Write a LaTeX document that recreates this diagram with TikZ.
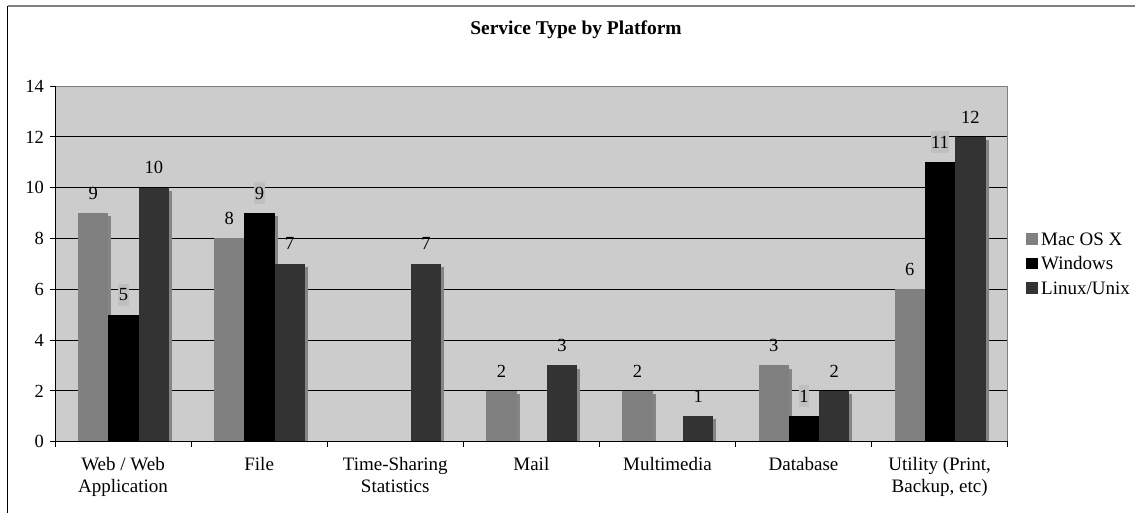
\documentclass[tikz,border=0pt]{standalone}
\usepackage{fontspec}
\setmainfont{Liberation Serif}
\usetikzlibrary{positioning}

\definecolor{plotbg}{HTML}{CCCCCC}
\definecolor{macgray}{HTML}{808080}
\definecolor{lingray}{HTML}{333333}
\definecolor{shadegray}{HTML}{858585}
\definecolor{boxgray}{HTML}{BFBFBF}

\tikzset{
  mac/.style={fill=macgray},
  win/.style={fill=black},
  lin/.style={fill=lingray},
  shade/.style={fill=shadegray},
  grid/.style={black, line width=0.8pt},
  val/.style={yshift=20pt, inner sep=1pt, font=\fontsize{18.5}{22}\selectfont},
  wval/.style={val, fill=boxgray, inner xsep=0.5pt, inner ysep=5pt},
  tick/.style={anchor=east, inner sep=0pt, font=\fontsize{18.5}{22}\selectfont},
  cat/.style={anchor=north, align=center, inner sep=0pt, font=\fontsize{19}{22}\selectfont},
  key/.style={minimum size=11.5pt, inner sep=0pt},
  keytext/.style={right=3pt of #1, inner sep=0pt, font=\fontsize{19}{22}\selectfont}
}

\begin{document}
\begin{tikzpicture}[x=1pt, y=25.4pt]
                \useasboundingbox (-55pt,-71.3pt) rectangle (1080pt,441.7pt);
                % frame and title
                \draw[macgray, line width=1.5pt] (-47pt,435.7pt) -- (1080pt,435.7pt);
                \draw[black, line width=1pt] (-47pt,435.7pt) -- (-47pt,-75pt);
                \node[font=\bfseries\fontsize{19.5}{22}\selectfont] (title) at (521pt,411.7pt) {Service Type by Platform};

                % plot area
                \fill[plotbg] (0,0) rectangle (952.7,14);
                \draw[grid] (0,2) -- (952.7,2) (0,4) -- (952.7,4) (0,6) -- (952.7,6)
                            (0,8) -- (952.7,8) (0,10) -- (952.7,10) (0,12) -- (952.7,12);
                \draw[macgray, line width=1pt] (0,14) -- (952.7,14) -- (952.7,0);

                % Web / Web Application
                \fill[shade] (26,0) rectangle (56.3,8.88);
                \fill[mac] (23,0) rectangle (53.3,9);
                \fill[shade] (56.3,0) rectangle (86.6,4.88);
                \fill[win] (53.3,0) rectangle (83.6,5);
                \fill[shade] (86.6,0) rectangle (116.9,9.88);
                \fill[lin] (83.6,0) rectangle (113.9,10);
                % File
                \fill[shade] (162.1,0) rectangle (192.4,7.88);
                \fill[mac] (159.1,0) rectangle (189.4,8);
                \fill[shade] (192.4,0) rectangle (222.7,8.88);
                \fill[win] (189.4,0) rectangle (219.7,9);
                \fill[shade] (222.7,0) rectangle (253,6.88);
                \fill[lin] (219.7,0) rectangle (250,7);
                % Time-Sharing Statistics
                \fill[shade] (358.8,0) rectangle (389.1,6.88);
                \fill[lin] (355.8,0) rectangle (386.1,7);
                % Mail
                \fill[shade] (434.3,0) rectangle (464.6,1.88);
                \fill[mac] (431.3,0) rectangle (461.6,2);
                \fill[shade] (494.9,0) rectangle (525.2,2.88);
                \fill[lin] (491.9,0) rectangle (522.2,3);
                % Multimedia
                \fill[shade] (570.4,0) rectangle (600.7,1.88);
                \fill[mac] (567.4,0) rectangle (597.7,2);
                \fill[shade] (631,0) rectangle (661.3,0.88);
                \fill[lin] (628,0) rectangle (658.3,1);
                % Database
                \fill[shade] (706.5,0) rectangle (736.8,2.88);
                \fill[mac] (703.5,0) rectangle (733.8,3);
                \fill[shade] (736.8,0) rectangle (767.1,0.88);
                \fill[win] (733.8,0) rectangle (764.1,1);
                \fill[shade] (767.1,0) rectangle (797.4,1.88);
                \fill[lin] (764.1,0) rectangle (794.4,2);
                % Utility
                \fill[shade] (842.6,0) rectangle (872.9,5.88);
                \fill[mac] (839.6,0) rectangle (869.9,6);
                \fill[shade] (872.9,0) rectangle (903.2,10.88);
                \fill[win] (869.9,0) rectangle (900.2,11);
                \fill[shade] (903.2,0) rectangle (933.5,11.88);
                \fill[lin] (900.2,0) rectangle (930.5,12);

                % axes
                \draw[black, line width=1pt] (0,14) -- (0,0) -- (952.7,0);
                \draw[black, line width=0.8pt] (-5,0) -- (0,0) (-5,2) -- (0,2) (-5,4) -- (0,4) (-5,6) -- (0,6)
                            (-5,8) -- (0,8) (-5,10) -- (0,10) (-5,12) -- (0,12) (-5,14) -- (0,14);
                \draw[black, line width=0.8pt] (0,0) -- (0pt,-5pt) (136.1,0) -- (136.1pt,-5pt) (272.2,0) -- (272.2pt,-5pt)
                            (408.3,0) -- (408.3pt,-5pt) (544.4,0) -- (544.4pt,-5pt) (680.5,0) -- (680.5pt,-5pt)
                            (816.6,0) -- (816.6pt,-5pt) (952.7,0) -- (952.7pt,-5pt);

                \node[tick] (y0) at (-11,0) {0};
                \node[tick] (y2) at (-11,2) {2};
                \node[tick] (y4) at (-11,4) {4};
                \node[tick] (y6) at (-11,6) {6};
                \node[tick] (y8) at (-11,8) {8};
                \node[tick] (y10) at (-11,10) {10};
                \node[tick] (y12) at (-11,12) {12};
                \node[tick] (y14) at (-11,14) {14};

                \node[cat] (c-web) at (68.05pt,-15.3pt) {Web / Web\\Application};
                \node[cat] (c-file) at (204.15pt,-15.3pt) {File};
                \node[cat] (c-time) at (340.25pt,-15.3pt) {Time-Sharing\\Statistics};
                \node[cat] (c-mail) at (476.35pt,-15.3pt) {Mail};
                \node[cat] (c-media) at (612.45pt,-15.3pt) {Multimedia};
                \node[cat] (c-db) at (748.55pt,-15.3pt) {Database};
                \node[cat] (c-util) at (884.65pt,-15.3pt) {Utility (Print,\\Backup, etc)};

                % value labels
                \node[val] (v-web-mac) at (38.15,9) {9};
                \node[wval] (v-web-win) at (68.45,5) {5};
                \node[val] (v-web-lin) at (98.75,10) {10};
                \node[val] (v-file-mac) at (174.25,8) {8};
                \node[wval] (v-file-win) at (204.55,9) {9};
                \node[val] (v-file-lin) at (234.85,7) {7};
                \node[val] (v-time-lin) at (370.95,7) {7};
                \node[val] (v-mail-mac) at (446.45,2) {2};
                \node[val] (v-mail-lin) at (507.05,3) {3};
                \node[val] (v-media-mac) at (582.55,2) {2};
                \node[val] (v-media-lin) at (643.15,1) {1};
                \node[val] (v-db-mac) at (718.65,3) {3};
                \node[wval] (v-db-win) at (748.95,1) {1};
                \node[val] (v-db-lin) at (779.25,2) {2};
                \node[val] (v-util-mac) at (854.75,6) {6};
                \node[wval] (v-util-win) at (885.05,11) {11};
                \node[val] (v-util-lin) at (915.35,12) {12};

                % legend
                \node[key, mac] (k-mac) at (977pt,202.7pt) {};
                \node[key, win] (k-win) at (977pt,178.2pt) {};
                \node[key, lin] (k-lin) at (977pt,153.7pt) {};
                \node[keytext=k-mac] (t-mac) {Mac OS X};
                \node[keytext=k-win] (t-win) {Windows};
                \node[keytext=k-lin] (t-lin) {Linux/Unix};
            \end{tikzpicture}
\end{document}
